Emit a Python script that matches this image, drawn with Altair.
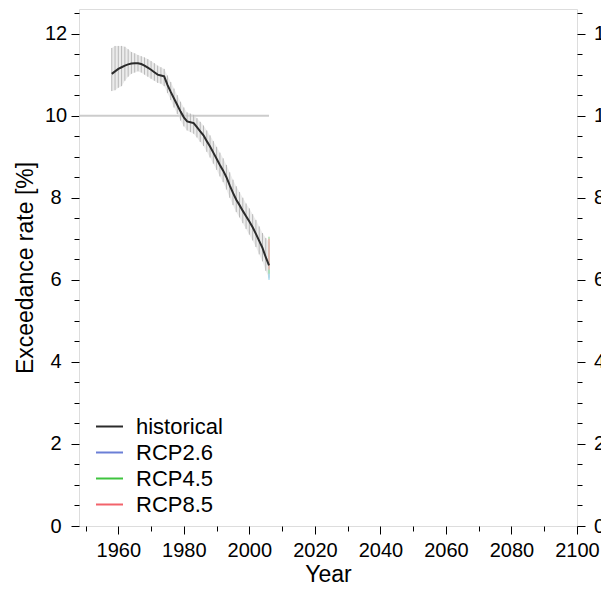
import altair as alt
import pandas as pd

# ---------------- data ----------------
years = list(range(1958, 2007))
hist_mean = [11.02, 11.08, 11.14, 11.18, 11.22, 11.25, 11.27, 11.28, 11.28, 11.26,
             11.22, 11.17, 11.12, 11.06, 11.00, 10.98, 10.96, 10.75, 10.58, 10.42,
             10.26, 10.10, 9.96, 9.86, 9.84, 9.82, 9.72, 9.62, 9.52, 9.38,
             9.25, 9.10, 8.95, 8.80, 8.66, 8.50, 8.30, 8.12, 7.95, 7.82,
             7.68, 7.55, 7.42, 7.28, 7.12, 6.95, 6.78, 6.55, 6.35]
band_lo = [10.60, 10.62, 10.68, 10.72, 10.85, 10.95, 11.02, 11.05, 11.08, 11.05,
           11.00, 10.95, 10.90, 10.85, 10.80, 10.78, 10.72, 10.55, 10.38, 10.20,
           10.04, 9.88, 9.74, 9.64, 9.60, 9.56, 9.47, 9.36, 9.26, 9.12,
           8.98, 8.83, 8.68, 8.52, 8.38, 8.20, 8.00, 7.82, 7.65, 7.52,
           7.38, 7.24, 7.10, 6.96, 6.80, 6.62, 6.45, 6.22, 6.05]
band_hi = [11.65, 11.70, 11.70, 11.70, 11.68, 11.62, 11.55, 11.52, 11.48, 11.45,
           11.42, 11.38, 11.33, 11.28, 11.22, 11.18, 11.14, 10.98, 10.82, 10.66,
           10.50, 10.34, 10.20, 10.08, 10.05, 10.02, 9.94, 9.85, 9.76, 9.64,
           9.52, 9.38, 9.24, 9.10, 8.96, 8.80, 8.62, 8.44, 8.28, 8.14,
           8.00, 7.86, 7.74, 7.60, 7.46, 7.30, 7.14, 7.02, 6.92]

series_names = ["historical", "RCP2.6", "RCP4.5", "RCP8.5"]
series_colors = ["#2b2b2b", "#6b7fd6", "#3fc43f", "#f2636b"]

rcp_names = ["RCP2.6", "RCP4.5", "RCP8.5"]
rcp_year = [2006, 2006, 2006]
rcp_lo = [6.00, 6.15, 6.25]
rcp_hi = [6.85, 7.05, 7.00]
rcp_band_colors = ["#9fd8ef", "#a8e0a8", "#f5b0b0"]

ref_years = [1948, 2006]
ref_level = [10, 10]

x_ticks = list(range(1950, 2101, 10))
y_ticks = [i * 0.5 for i in range(26)]

# ---------------- tables ----------------
hist_df = pd.DataFrame({"year": years, "value": hist_mean, "series": "historical"})
band_df = pd.DataFrame({"year": years, "lo": band_lo, "hi": band_hi})
rcp_df = pd.DataFrame({"year": rcp_year, "lo": rcp_lo, "hi": rcp_hi, "series": rcp_names})
ref_df = pd.DataFrame({"year": ref_years, "value": ref_level})

FONT = "Liberation Sans"

x_scale = alt.Scale(domain=[1948, 2100], nice=False, zero=False)
y_scale = alt.Scale(domain=[0, 12.6], nice=False, zero=False)

x_axis = alt.Axis(
    values=x_ticks,
    labelExpr="datum.value % 20 === 0 ? format(datum.value, 'd') : ''",
    tickSize={"condition": {"test": "datum.value % 20 === 0", "value": 8}, "value": 5},
    title="Year", titleFontSize=23, titleFont=FONT, titleFontWeight="normal",
    titleX=249, titleY=48, titleBaseline="middle", titleAlign="center",
    labelFontSize=20, labelFont=FONT, labelColor="black", labelPadding=6,
    labelFlush=False, labelOverlap=False, labelBound=False,
    domain=False, grid=False, tickColor="black", tickWidth=1,
)

def y_axis(orient):
    if orient == "left":
        return alt.Axis(
            orient="left", values=y_ticks,
            labelExpr="datum.value % 2 === 0 ? format(datum.value, 'd') : ''",
            tickSize={"condition": {"test": "datum.value % 2 === 0", "value": 8}, "value": 5},
            title="Exceedance rate [%]", titleFontSize=23, titleFont=FONT,
            titleFontWeight="normal", titleAngle=-90, titleX=-54, titleY=258.5,
            titleBaseline="middle", titleAlign="center",
            labelFontSize=20, labelFont=FONT, labelColor="black",
            labelAlign="center", labelBaseline="middle", labelPadding=15.5,
            labelFlush=False, labelOverlap=False, labelBound=False,
            domain=False, grid=False, tickColor="black", tickWidth=1,
        )
    return alt.Axis(
        orient="right", values=y_ticks,
        labelExpr="datum.value % 2 === 0 ? format(datum.value, 'd') : ''",
        tickSize={"condition": {"test": "datum.value % 2 === 0", "value": 8}, "value": 5},
        title=None,
        labelFontSize=20, labelFont=FONT, labelColor="black",
        labelAlign="left", labelBaseline="middle", labelPadding=8.5,
        labelFlush=False, labelOverlap=False, labelBound=False,
        domain=False, grid=False, tickColor="black", tickWidth=1,
    )

X = alt.X("year:Q", scale=x_scale, axis=x_axis)

ref_layer = alt.Chart(ref_df).mark_line(color="#cccccc", strokeWidth=2).encode(
    x=X, y=alt.Y("value:Q", scale=y_scale, axis=y_axis("left"))
)
ref_right = alt.Chart(ref_df).mark_line(opacity=0).encode(
    x=X, y=alt.Y("value:Q", scale=y_scale, axis=y_axis("right"))
)

band_area = alt.Chart(band_df).mark_area(color="#d9d9d9", opacity=0.5).encode(
    x=X, y=alt.Y("lo:Q", scale=y_scale, axis=None), y2="hi:Q"
)
band_hatch = alt.Chart(band_df).mark_rule(color="#b8b8b8", strokeWidth=1).encode(
    x=X, y=alt.Y("lo:Q", scale=y_scale, axis=None), y2="hi:Q"
)

rcp_layer = alt.Chart(rcp_df).mark_rule(strokeWidth=2, opacity=0.7).encode(
    x=X, y=alt.Y("lo:Q", scale=y_scale, axis=None), y2="hi:Q",
    color=alt.Color("series:N", scale=alt.Scale(domain=rcp_names, range=rcp_band_colors),
                    legend=None),
)

hist_line = alt.Chart(hist_df).mark_line(strokeWidth=2).encode(
    x=X, y=alt.Y("value:Q", scale=y_scale, axis=None),
    color=alt.Color(
        "series:N",
        scale=alt.Scale(domain=series_names, range=series_colors),
        legend=alt.Legend(
            orient="none", legendX=16, legendY=403, title=None,
            symbolType="stroke", symbolSize=729, symbolStrokeWidth=2,
            labelFontSize=22, labelFont=FONT, labelColor="black",
            labelOffset=12, rowPadding=0, padding=0, values=series_names,
        ),
    ),
)

chart = (
    alt.layer(ref_layer, ref_right, band_area, band_hatch, rcp_layer, hist_line)
    .resolve_scale(color="independent")
    .resolve_axis(y="independent")
    .properties(
        width=498, height=517,
        autosize=alt.AutoSizeParams(type="none"),
        padding={"left": 71, "top": 1, "right": 24, "bottom": 59},
    )
    .configure_view(stroke="black", strokeWidth=1.5)
    .configure(background="white")
)

chart.save("out.html", embed_options={"renderer": "svg", "actions": False})
